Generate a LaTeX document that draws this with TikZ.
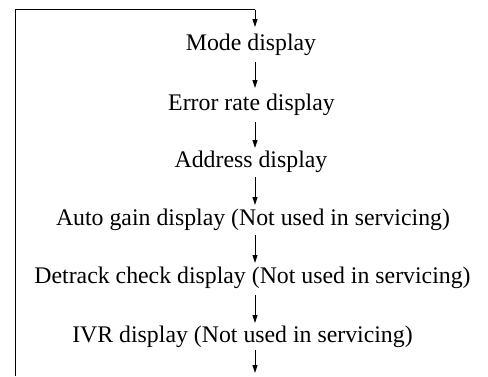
\documentclass[tikz,border=0pt]{standalone}
\usepackage{fontspec}
\setmainfont{Liberation Serif}
\usetikzlibrary{arrows.meta}
\begin{document}
\begin{tikzpicture}[x=1pt,y=-1pt,
  lbl/.style={anchor=base,inner sep=0pt,font=\fontsize{23.8}{28}\selectfont},
  flow/.style={line width=0.9pt,-{Stealth[length=8pt,width=5pt,inset=0pt]}},
  loop/.style={line width=0.9pt}]
\useasboundingbox (0,0) rectangle (488,376);
\node[lbl] (mode) at (251,50) {Mode display};
\node[lbl] (err) at (251.5,110) {Error rate display};
\node[lbl] (addr) at (251,167) {Address display};
\node[lbl] (agc) at (253,225) {Auto gain display (Not used in servicing)};
\node[lbl] (det) at (252.5,283) {Detrack check display (Not used in servicing)};
\node[lbl] (ivr) at (242.5,342) {IVR display (Not used in servicing)};
\coordinate (bl) at (15,376);
\coordinate (tl) at (15,9.5);
\coordinate (tr) at (255,9.5);
\coordinate (a0) at (255,27);
\coordinate (s1) at (255,62);  \coordinate (e1) at (255,88);
\coordinate (s2) at (255,122); \coordinate (e2) at (255,148);
\coordinate (s3) at (255,177); \coordinate (e3) at (255,205);
\coordinate (s4) at (255,235); \coordinate (e4) at (255,263);
\coordinate (s5) at (255,295); \coordinate (e5) at (255,323);
\coordinate (s6) at (255,350); \coordinate (e6) at (255,373);
\draw[loop] (bl) -- (tl) -- (tr);
\draw[flow] (tr) -- (a0);
\draw[flow] (s1) -- (e1);
\draw[flow] (s2) -- (e2);
\draw[flow] (s3) -- (e3);
\draw[flow] (s4) -- (e4);
\draw[flow] (s5) -- (e5);
\draw[flow] (s6) -- (e6);
\end{tikzpicture}
\end{document}
